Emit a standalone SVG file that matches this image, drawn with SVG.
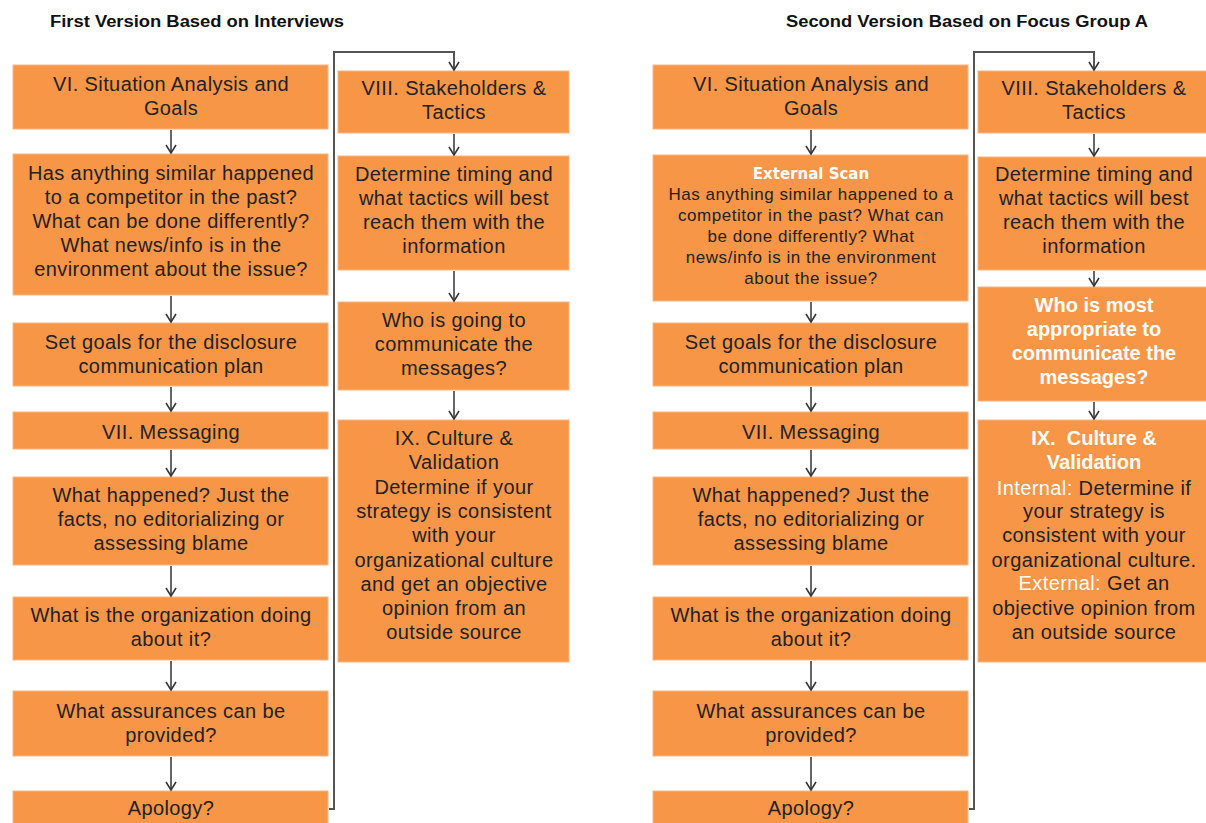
<svg xmlns="http://www.w3.org/2000/svg" width="1206" height="823" viewBox="0 0 1206 823">
  <defs>
    <marker id="arrow" viewBox="-10 -6 12 12" refX="0" refY="0" markerWidth="12" markerHeight="12" markerUnits="userSpaceOnUse" orient="auto">
      <path d="M-8,-5 L0,0 L-8,5" fill="none" stroke="#333" stroke-width="1.5"/>
    </marker>
    <style>
      .box { fill: #F79646; stroke: #FAB582; stroke-width: 1; }
      .t { font-family: "Liberation Sans", Arial, sans-serif; font-size: 20px; fill: #222222; text-anchor: middle; letter-spacing: 0.4px; }
      .s { font-family: "Liberation Sans", Arial, sans-serif; font-size: 17px; fill: #222222; text-anchor: middle; letter-spacing: 0.55px; }
      .w { font-family: "Liberation Sans", Arial, sans-serif; font-size: 20px; font-weight: bold; fill: #ffffff; text-anchor: middle; }
      .wl { fill: #ffffff; }
      .ext { font-family: "DejaVu Sans", sans-serif; font-size: 15px; font-weight: bold; fill: #ffffff; text-anchor: middle; }
      .title { font-family: "Liberation Sans", Arial, sans-serif; font-size: 16px; font-weight: bold; fill: #111; }
      .flow { fill: none; stroke: #333; stroke-width: 1.5; marker-end: url(#arrow); }
      .loop { fill: none; stroke: #555; stroke-width: 2; marker-end: url(#arrow); }
    </style>
  </defs>
  <rect width="1206" height="823" fill="#ffffff"/>

  <!-- headings -->
  <text class="title" x="50" y="27" textLength="294" lengthAdjust="spacingAndGlyphs">First Version Based on Interviews</text>
  <text class="title" x="786" y="27" textLength="362" lengthAdjust="spacingAndGlyphs">Second Version Based on Focus Group A</text>

  <!-- ===== First version ===== -->
  <g id="v1-situation">
    <rect class="box" x="13" y="65" width="315" height="64"/>
    <text class="t" x="171" y="91">VI. Situation Analysis and</text>
    <text class="t" x="171" y="115">Goals</text>
  </g>
  <g id="v1-scan">
    <rect class="box" x="13" y="154" width="315" height="141"/>
    <text class="t" x="171" y="180">Has anything similar happened</text>
    <text class="t" x="171" y="204">to a competitor in the past?</text>
    <text class="t" x="171" y="228">What can be done differently?</text>
    <text class="t" x="171" y="252">What news/info is in the</text>
    <text class="t" x="171" y="276">environment about the issue?</text>
  </g>
  <g id="v1-goals">
    <rect class="box" x="13" y="323" width="315" height="63"/>
    <text class="t" x="171" y="349">Set goals for the disclosure</text>
    <text class="t" x="171" y="373">communication plan</text>
  </g>
  <g id="v1-messaging">
    <rect class="box" x="13" y="412" width="315" height="37"/>
    <text class="t" x="171" y="439">VII. Messaging</text>
  </g>
  <g id="v1-happened">
    <rect class="box" x="13" y="477" width="315" height="88"/>
    <text class="t" x="171" y="502">What happened? Just the</text>
    <text class="t" x="171" y="526">facts, no editorializing or</text>
    <text class="t" x="171" y="550">assessing blame</text>
  </g>
  <g id="v1-doing">
    <rect class="box" x="13" y="597" width="315" height="63"/>
    <text class="t" x="171" y="622">What is the organization doing</text>
    <text class="t" x="171" y="646">about it?</text>
  </g>
  <g id="v1-assurances">
    <rect class="box" x="13" y="691" width="315" height="65"/>
    <text class="t" x="171" y="718">What assurances can be</text>
    <text class="t" x="171" y="742">provided?</text>
  </g>
  <g id="v1-apology">
    <rect class="box" x="13" y="791" width="315" height="40"/>
    <text class="t" x="171" y="815">Apology?</text>
  </g>
  <g id="v1-stakeholders">
    <rect class="box" x="338" y="71" width="231" height="62"/>
    <text class="t" x="454" y="95">VIII. Stakeholders &amp;</text>
    <text class="t" x="454" y="119">Tactics</text>
  </g>
  <g id="v1-timing">
    <rect class="box" x="338" y="156" width="231" height="114"/>
    <text class="t" x="454" y="181">Determine timing and</text>
    <text class="t" x="454" y="205">what tactics will best</text>
    <text class="t" x="454" y="229">reach them with the</text>
    <text class="t" x="454" y="253">information</text>
  </g>
  <g id="v1-who">
    <rect class="box" x="338" y="302" width="231" height="88"/>
    <text class="t" x="454" y="327">Who is going to</text>
    <text class="t" x="454" y="351">communicate the</text>
    <text class="t" x="454" y="375">messages?</text>
  </g>
  <g id="v1-culture">
    <rect class="box" x="338" y="420" width="231" height="242"/>
    <text class="t" x="454" y="445">IX. Culture &amp;</text>
    <text class="t" x="454" y="469">Validation</text>
    <text class="t" x="454" y="494">Determine if your</text>
    <text class="t" x="454" y="518">strategy is consistent</text>
    <text class="t" x="454" y="542">with your</text>
    <text class="t" x="454" y="567">organizational culture</text>
    <text class="t" x="454" y="591">and get an objective</text>
    <text class="t" x="454" y="615">opinion from an</text>
    <text class="t" x="454" y="639">outside source</text>
  </g>

  <!-- ===== Second version ===== -->
  <g id="v2-situation">
    <rect class="box" x="653" y="65" width="315" height="64"/>
    <text class="t" x="811" y="91">VI. Situation Analysis and</text>
    <text class="t" x="811" y="115">Goals</text>
  </g>
  <g id="v2-scan">
    <rect class="box" x="653" y="155" width="315" height="146"/>
    <text class="ext" x="811" y="179">External Scan</text>
    <text class="s" x="811" y="200">Has anything similar happened to a</text>
    <text class="s" x="811" y="221">competitor in the past? What can</text>
    <text class="s" x="811" y="242">be done differently? What</text>
    <text class="s" x="811" y="263">news/info is in the environment</text>
    <text class="s" x="811" y="284">about the issue?</text>
  </g>
  <g id="v2-goals">
    <rect class="box" x="653" y="323" width="315" height="63"/>
    <text class="t" x="811" y="349">Set goals for the disclosure</text>
    <text class="t" x="811" y="373">communication plan</text>
  </g>
  <g id="v2-messaging">
    <rect class="box" x="653" y="412" width="315" height="37"/>
    <text class="t" x="811" y="439">VII. Messaging</text>
  </g>
  <g id="v2-happened">
    <rect class="box" x="653" y="477" width="315" height="88"/>
    <text class="t" x="811" y="502">What happened? Just the</text>
    <text class="t" x="811" y="526">facts, no editorializing or</text>
    <text class="t" x="811" y="550">assessing blame</text>
  </g>
  <g id="v2-doing">
    <rect class="box" x="653" y="597" width="315" height="63"/>
    <text class="t" x="811" y="622">What is the organization doing</text>
    <text class="t" x="811" y="646">about it?</text>
  </g>
  <g id="v2-assurances">
    <rect class="box" x="653" y="691" width="315" height="65"/>
    <text class="t" x="811" y="718">What assurances can be</text>
    <text class="t" x="811" y="742">provided?</text>
  </g>
  <g id="v2-apology">
    <rect class="box" x="653" y="791" width="315" height="40"/>
    <text class="t" x="811" y="815">Apology?</text>
  </g>
  <g id="v2-stakeholders">
    <rect class="box" x="978" y="71" width="232" height="62"/>
    <text class="t" x="1094" y="95">VIII. Stakeholders &amp;</text>
    <text class="t" x="1094" y="119">Tactics</text>
  </g>
  <g id="v2-timing">
    <rect class="box" x="978" y="157" width="232" height="113"/>
    <text class="t" x="1094" y="181">Determine timing and</text>
    <text class="t" x="1094" y="205">what tactics will best</text>
    <text class="t" x="1094" y="229">reach them with the</text>
    <text class="t" x="1094" y="253">information</text>
  </g>
  <g id="v2-who">
    <rect class="box" x="978" y="287" width="232" height="114"/>
    <text class="w" x="1094" y="312">Who is most</text>
    <text class="w" x="1094" y="336">appropriate to</text>
    <text class="w" x="1094" y="360">communicate the</text>
    <text class="w" x="1094" y="384">messages?</text>
  </g>
  <g id="v2-culture">
    <rect class="box" x="978" y="420" width="232" height="242"/>
    <text class="w" x="1094" y="445">IX.&#160; Culture &amp;</text>
    <text class="w" x="1094" y="469">Validation</text>
    <text class="t" x="1094" y="495"><tspan class="wl">Internal:</tspan> Determine if</text>
    <text class="t" x="1094" y="518">your strategy is</text>
    <text class="t" x="1094" y="542">consistent with your</text>
    <text class="t" x="1094" y="567">organizational culture.</text>
    <text class="t" x="1094" y="590"><tspan class="wl">External:</tspan> Get an</text>
    <text class="t" x="1094" y="615">objective opinion from</text>
    <text class="t" x="1094" y="639">an outside source</text>
  </g>

  <!-- connectors -->
  <g id="connectors">
    <line class="flow" x1="171" y1="130" x2="171" y2="153"/>
    <line class="flow" x1="171" y1="296" x2="171" y2="322"/>
    <line class="flow" x1="171" y1="387" x2="171" y2="411"/>
    <line class="flow" x1="171" y1="450" x2="171" y2="476"/>
    <line class="flow" x1="171" y1="566" x2="171" y2="596"/>
    <line class="flow" x1="171" y1="661" x2="171" y2="690"/>
    <line class="flow" x1="171" y1="757" x2="171" y2="790"/>
    <line class="flow" x1="454" y1="134" x2="454" y2="155"/>
    <line class="flow" x1="454" y1="271" x2="454" y2="301"/>
    <line class="flow" x1="454" y1="391" x2="454" y2="419"/>
    <polyline class="loop" points="329,809 334,809 334,52 454,52 454,70"/>

    <line class="flow" x1="811" y1="130" x2="811" y2="154"/>
    <line class="flow" x1="811" y1="302" x2="811" y2="322"/>
    <line class="flow" x1="811" y1="387" x2="811" y2="411"/>
    <line class="flow" x1="811" y1="450" x2="811" y2="476"/>
    <line class="flow" x1="811" y1="566" x2="811" y2="596"/>
    <line class="flow" x1="811" y1="661" x2="811" y2="690"/>
    <line class="flow" x1="811" y1="757" x2="811" y2="790"/>
    <line class="flow" x1="1094" y1="134" x2="1094" y2="156"/>
    <line class="flow" x1="1094" y1="271" x2="1094" y2="286"/>
    <line class="flow" x1="1094" y1="402" x2="1094" y2="419"/>
    <polyline class="loop" points="969,809 974,809 974,52 1094,52 1094,70"/>
  </g>
</svg>
